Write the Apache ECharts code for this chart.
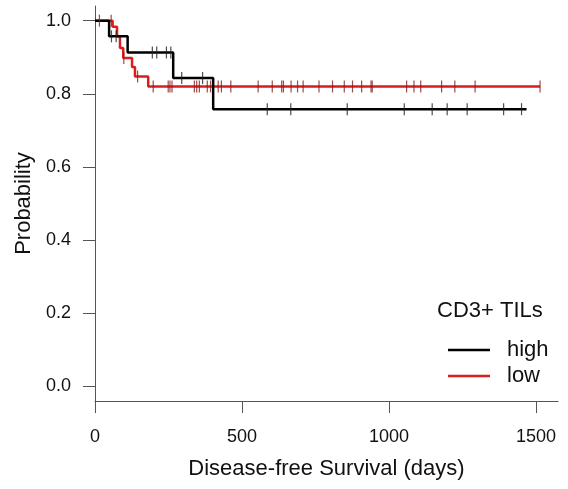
<!DOCTYPE html>
<html>
<head>
<meta charset="utf-8">
<script src="https://cdn.jsdelivr.net/npm/echarts@6/dist/echarts.min.js"></script>
<style>
html,body{margin:0;padding:0;background:#fff;}
#chart{width:568px;height:489px;}
</style>
</head>
<body>
<div id="chart"></div>
<script>
// Kaplan-Meier step data (days, survival probability)
const highTimes = [0, 48, 111, 266, 402, 1468];
const highSurv  = [1, 0.957, 0.913, 0.843, 0.758, 0.758];
const highCensor = [56, 72, 195, 210, 243, 258, 295, 366, 586, 666, 858, 1052, 1147, 1198, 1266, 1390, 1451];

const lowTimes = [0, 60, 75, 85, 96, 126, 136, 181, 1514];
const lowSurv  = [1, 0.983, 0.957, 0.925, 0.898, 0.873, 0.847, 0.82, 0.82];
const lowCensor = [15, 55, 98, 145, 198, 249, 255, 262, 338, 346, 355, 382, 393, 419, 430, 462, 555, 603, 635, 641, 667, 689, 708, 762, 808, 848, 876, 907, 939, 943, 1060, 1085, 1108, 1179, 1224, 1293, 1514];

const xTicks = [0, 500, 1000, 1500];
const yTicks = [0, 0.2, 0.4, 0.6, 0.8, 1.0];

const seriesNames = ['high', 'low'];
const legendTitle = 'CD3+ TILs';
const xTitle = 'Disease-free Survival (days)';
const yTitle = 'Probability';

function stepPairs(t, s) { return t.map((v, i) => [v, s[i]]); }
function survAt(t, s, time) {
  let v = s[0];
  for (let i = 0; i < t.length; i++) { if (t[i] <= time) v = s[i]; }
  return v;
}
function censorPairs(t, s, c) { return c.map(x => [x, survAt(t, s, x)]); }

const BLACK = '#000000';
const RED = '#d81e1e';
const FONT = '"Liberation Sans", Arial, sans-serif';

const chart = echarts.init(document.getElementById('chart'));
chart.setOption({
  animation: false,
  backgroundColor: '#fff',
  textStyle: { fontFamily: FONT },
  grid: { left: 95, right: 10, top: 6, bottom: 88 },
  xAxis: {
    type: 'value', min: 0, max: 1575,
    name: xTitle, nameLocation: 'middle', nameGap: 57,
    nameTextStyle: { fontSize: 22, color: '#111', fontFamily: FONT },
    axisLine: { onZero: false, lineStyle: { color: '#555', width: 1 } },
    axisTick: { show: true, length: 12, customValues: xTicks, lineStyle: { color: '#555' } },
    axisLabel: { customValues: xTicks, margin: 27, fontSize: 18, color: '#111', fontFamily: FONT,
      formatter: v => String(v) },
    splitLine: { show: false }
  },
  yAxis: {
    type: 'value', min: -0.04, max: 1.04,
    name: yTitle, nameLocation: 'middle', nameGap: 58,
    nameTextStyle: { fontSize: 22, color: '#111', fontFamily: FONT },
    axisLine: { show: true, onZero: false, lineStyle: { color: '#555', width: 1 } },
    axisTick: { show: true, length: 12, customValues: yTicks, lineStyle: { color: '#555' } },
    axisLabel: { customValues: yTicks, margin: 24, fontSize: 18, color: '#111', fontFamily: FONT,
      formatter: v => Number(v).toFixed(1) },
    splitLine: { show: false }
  },
  legend: {
    data: seriesNames,
    orient: 'vertical', left: 443, top: 334,
    icon: 'rect', itemWidth: 42, itemHeight: 2.5, itemGap: 4,
    textStyle: { fontSize: 22, color: '#111', fontFamily: FONT, padding: [0, 0, 0, 12] }
  },
  graphic: [{
    type: 'text', left: 437, top: 300,
    style: { text: legendTitle, fontSize: 22, fill: '#111', fontFamily: FONT }
  }],
  series: [
    { name: seriesNames[0], type: 'line', step: 'end', data: stepPairs(highTimes, highSurv),
      showSymbol: false, lineStyle: { color: BLACK, width: 2.5 }, itemStyle: { color: BLACK }, z: 3 },
    { name: seriesNames[1], type: 'line', step: 'end', data: stepPairs(lowTimes, lowSurv),
      showSymbol: false, lineStyle: { color: RED, width: 2.5 }, itemStyle: { color: RED }, z: 2 },
    { name: seriesNames[0] + '-censor', type: 'scatter', data: censorPairs(highTimes, highSurv, highCensor),
      symbol: 'rect', symbolSize: [1.2, 12], itemStyle: { color: '#222' }, z: 4 },
    { name: seriesNames[1] + '-censor', type: 'scatter', data: censorPairs(lowTimes, lowSurv, lowCensor),
      symbol: 'rect', symbolSize: [1.2, 12], itemStyle: { color: '#8a1c1c' }, z: 4 }
  ]
});
</script>
</body>
</html>
